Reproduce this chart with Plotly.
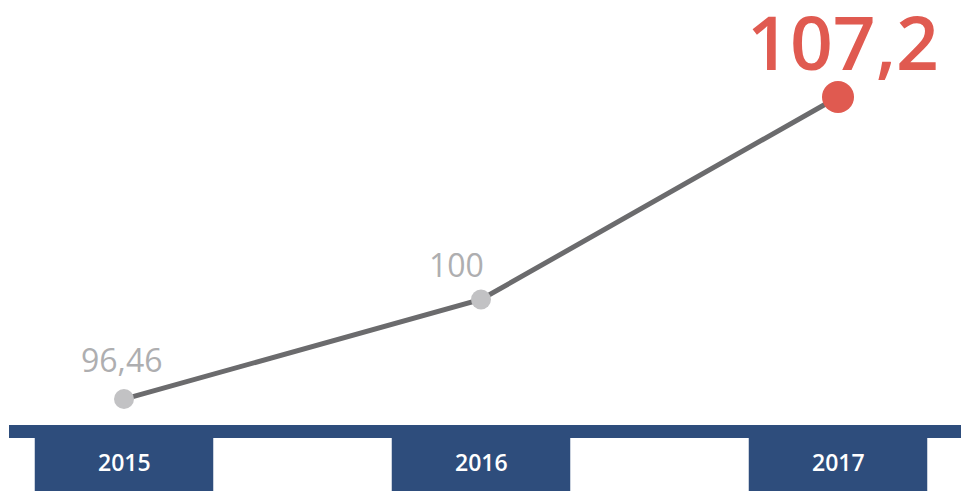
import plotly.graph_objects as go

years = ["2015", "2016", "2017"]
values = [96.46, 100, 107.2]
value_labels = ["96,46", "100", "107,2"]

xs = list(range(len(years)))
navy = "#2e4d7c"
grey_txt = "#aeaeb0"
red = "#e05a50"

fig = go.Figure()

# connecting line
fig.add_trace(go.Scatter(x=xs, y=values, mode="lines",
                         line=dict(color="#6b6b6d", width=5),
                         hoverinfo="skip"))
# markers, last one highlighted
fig.add_trace(go.Scatter(x=xs, y=values, mode="markers",
                         marker=dict(color=["#c2c2c4", "#c2c2c4", red],
                                     size=[20, 20, 32], opacity=1,
                                     line=dict(width=0)),
                         hoverinfo="skip"))

shapes = []
# blue band across the bottom
shapes.append(dict(type="rect", xref="paper", yref="paper",
                   x0=9 / 961, x1=1, y0=1 - 438 / 491, y1=1 - 425 / 491,
                   fillcolor=navy, line_width=0, layer="below"))
annotations = []
for i, yr in enumerate(years):
    shapes.append(dict(type="rect", xref="x", yref="paper",
                       x0=i - 0.25, x1=i + 0.25, y0=0, y1=1 - 437 / 491,
                       fillcolor=navy, line_width=0, layer="below"))
    annotations.append(dict(x=i, y=1 - 462 / 491, xref="x", yref="paper",
                            xanchor="center", yanchor="middle",
                            text=yr, showarrow=False,
                            font=dict(family="Open Sans", size=23,
                                      color="white", weight=600)))

# value labels
label_style = [
    dict(size=32, color=grey_txt, xshift=-3, yshift=40, weight=500),
    dict(size=32, color=grey_txt, xshift=-25, yshift=35, weight=500),
    dict(size=75, color=red, xshift=5, yshift=56, weight=600),
]
for i, (v, lab) in enumerate(zip(values, value_labels)):
    st = label_style[i]
    annotations.append(dict(x=i, y=v, xref="x", yref="y", text=lab,
                            xanchor="center", yanchor="middle",
                            showarrow=False, xshift=st["xshift"],
                            yshift=st["yshift"],
                            font=dict(family="Open Sans", size=st["size"],
                                      color=st["color"], weight=st["weight"])))

fig.update_layout(
    width=961, height=491,
    margin=dict(l=0, r=0, t=0, b=0),
    paper_bgcolor="white", plot_bgcolor="white",
    showlegend=False,
    shapes=shapes, annotations=annotations,
    xaxis=dict(range=[-124 / 357, 837 / 357], visible=False, fixedrange=True),
    yaxis=dict(range=[93.19, 110.65], visible=False, fixedrange=True),
)

fig.write_html("out.html", config={"displayModeBar": False},
               post_script="document.body.style.margin='0';document.body.style.overflow='hidden';")
